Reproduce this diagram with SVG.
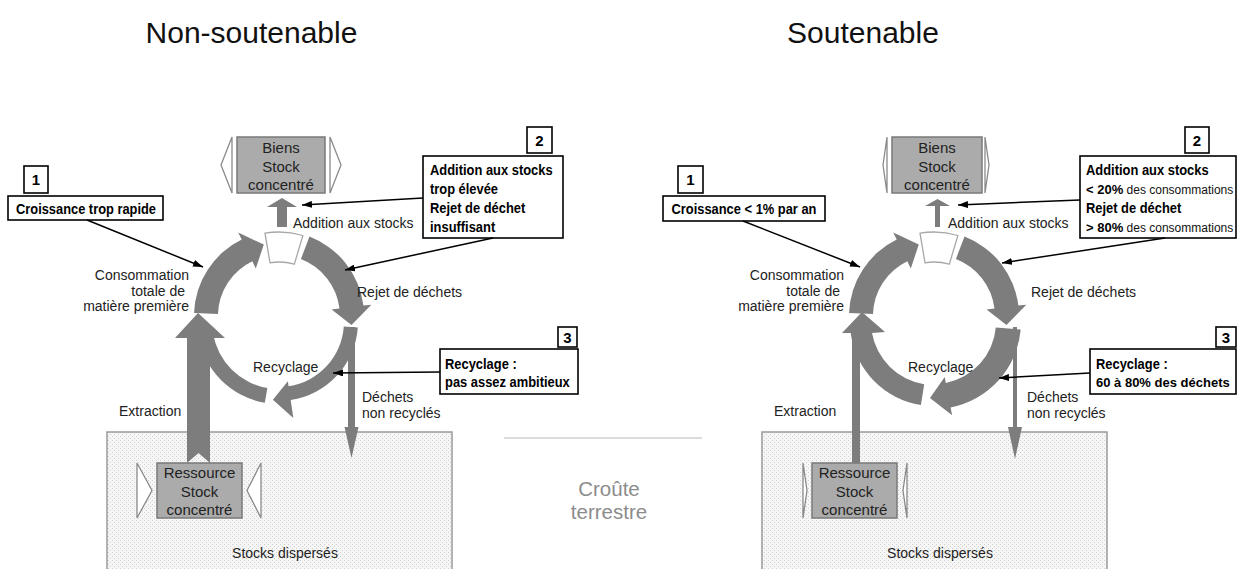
<svg xmlns="http://www.w3.org/2000/svg" width="1238" height="569" viewBox="0 0 1238 569">
<defs>
<style>
text{font-family:"Liberation Sans",Arial,sans-serif;fill:#1a1a1a}
.title{font-size:30px;text-anchor:middle;fill:#111}
.lbl{font-size:14px;fill:#222}
.end{text-anchor:end}
.mid{text-anchor:middle}
.box{font-size:15px;text-anchor:middle;fill:#222}
.cb{font-size:15px;font-weight:bold;fill:#000}
.cm{font-size:12px;fill:#111}
.bt{font-size:13px;font-weight:bold;fill:#000}
.num{font-size:15px;font-weight:bold;text-anchor:middle;fill:#000}
.band{fill:#7d7d7d}
.gap{fill:#fff;stroke:#a8a8a8;stroke-width:1.3}
.stock{fill:#ababab;stroke:#7a7a7a;stroke-width:1.5}
.chev{fill:#fff;stroke:#8a8a8a;stroke-width:1.3}
.call{fill:#fff;stroke:#000;stroke-width:1.6}
.conn{stroke:#000;stroke-width:1.5;fill:none;marker-end:url(#ah)}
.ground{fill:url(#dots);stroke:#9a9a9a;stroke-width:1.5}
.crust{font-size:20.5px;text-anchor:middle;fill:#8c8c8c}
</style>
<marker id="ah" viewBox="0 0 10 7" refX="10" refY="3.5" markerWidth="10" markerHeight="7" markerUnits="userSpaceOnUse" orient="auto"><path d="M0,0 L10,3.5 L0,7 z" fill="#000"/></marker>
<pattern id="dots" width="4" height="4" patternUnits="userSpaceOnUse"><rect width="4" height="4" fill="#f6f6f6"/><rect x="0" y="0" width="1" height="1" fill="#d0d0d0"/><rect x="2" y="2" width="1" height="1" fill="#d0d0d0"/></pattern>
<path id="conso" class="band" d="M194.05,313 A85,85 0 0 1 241.7,239.6 L238.2,232.4 L263.8,244.6 L255.8,268.4 L252.3,261.2 A61,61 0 0 0 218,313.9 Z"/>
<path id="gapseg" class="gap" d="M265,233.2 A84,84 0 0 1 302.9,235.5 L294.3,264.2 A54,54 0 0 0 270,262.8 Z"/>
<path id="rejet" class="band" d="M309.5,236.6 A85,85 0 0 1 363.4,305.6 L371.3,304.7 L351.5,324.9 L331.6,309.5 L339.5,308.6 A61,61 0 0 0 300.9,259 Z"/>
</defs>

<rect width="1238" height="569" fill="#fff"/>

<text class="title" x="251.5" y="43">Non-soutenable</text>
<text class="title" x="863" y="43">Soutenable</text>

<!-- ground / crust -->
<g id="ground-L"><rect class="ground" x="107" y="432" width="345" height="150"/><text class="lbl mid" x="285" y="558">Stocks dispersés</text></g>
<g id="ground-R"><rect class="ground" x="762" y="432" width="345" height="150"/><text class="lbl mid" x="940" y="558">Stocks dispersés</text></g>
<g id="crust">
<line x1="504" y1="438" x2="702" y2="438" stroke="#d0d0d0" stroke-width="1.5"/>
<text class="crust" x="609" y="496">Croûte</text>
<text class="crust" x="609" y="519">terrestre</text>
</g>

<!-- LEFT flows -->
<g id="flows-L">
<use href="#conso"/>
<use href="#gapseg"/>
<use href="#rejet"/>
<path class="band" d="M357.8,327.5 A79,79 0 0 1 290.7,400.1 L293.3,417.9 L272.9,399.8 L287.9,381.3 L288.6,386.3 A65,65 0 0 0 343.8,326.5 Z"/>
<path class="band" d="M264.8,402.8 A82,82 0 0 1 198.2,336.2 L213,333.6 A67,67 0 0 0 267.4,388 Z"/>
<polygon class="band" points="198,313 225,338 210,338 210,463 198.5,453 187,463 187,338 175,338"/>
<polygon class="band" points="348,327 355,327 355,427 358.5,427 351.5,458 344.5,427 348,427"/>
<polygon class="band" points="282,198 297,207 287,207 287,227 277,227 277,207 267,207"/>
</g>

<!-- RIGHT flows -->
<g id="flows-R" transform="translate(655,0)">
<use href="#conso"/>
<use href="#gapseg"/>
<use href="#rejet"/>
<path class="band" d="M365.7,329.6 A87,87 0 0 1 295.6,407.4 L297.1,415.3 L275,397.9 L289.7,377 L290.8,382.9 A62,62 0 0 0 340.8,327.4 Z"/>
<path class="band" d="M265.9,405 A84,84 0 0 1 195.7,333 L187,333 L207,312 L230,332 L217,333 A63,63 0 0 0 269.2,384.2 Z"/>
<rect class="band" x="197" y="330" width="8" height="133"/>
<polygon class="band" points="358,327 362,327 362,427 367,427 360,459 353,427 358,427"/>
<polygon class="band" points="282.5,199 295,206 285,206 285,227 280,227 280,206 270,206"/>
</g>

<!-- LEFT nodes -->
<g id="biens-L">
<polygon class="chev" points="232,137 221,165 232,193"/>
<polygon class="chev" points="330,137 341,165 330,193"/>
<rect class="stock" x="237" y="137" width="88" height="56"/>
<text class="box" x="281" y="153">Biens</text>
<text class="box" x="281" y="171.5">Stock</text>
<text class="box" x="281" y="190">concentré</text>
</g>
<g id="ressource-L">
<polygon class="chev" points="137,463 152,490.5 137,518"/>
<polygon class="chev" points="261,463 247,490.5 261,518"/>
<rect class="stock" x="157" y="463" width="85" height="55"/>
<text class="box" x="199.5" y="478">Ressource</text>
<text class="box" x="199.5" y="497">Stock</text>
<text class="box" x="199.5" y="515">concentré</text>
</g>
<g id="labels-L">
<text class="lbl" x="293" y="228">Addition aux stocks</text>
<text class="lbl end" x="189" y="280">Consommation</text>
<text class="lbl end" x="185" y="295.5">totale de</text>
<text class="lbl end" x="189" y="311">matière première</text>
<text class="lbl" x="357" y="297">Rejet de déchets</text>
<text class="lbl" x="253" y="372">Recyclage</text>
<text class="lbl" x="362" y="402">Déchets</text>
<text class="lbl" x="362" y="418">non recyclés</text>
<text class="lbl" x="119" y="416">Extraction</text>
</g>
<g id="call1-L">
<rect class="call" x="24" y="166" width="24" height="27"/><text class="num" x="36" y="185">1</text>
<rect class="call" x="8" y="196" width="155" height="24"/>
<text class="cb mid" x="86" y="214" textLength="140" lengthAdjust="spacingAndGlyphs">Croissance trop rapide</text>
</g>
<g id="call2-L">
<rect class="call" x="527" y="127" width="25" height="26"/><text class="num" x="539.5" y="146">2</text>
<rect class="call" x="423" y="156" width="140" height="82"/>
<text class="cb" x="430" y="175" textLength="122.6" lengthAdjust="spacingAndGlyphs">Addition aux stocks</text>
<text class="cb" x="430" y="194" textLength="68" lengthAdjust="spacingAndGlyphs">trop élevée</text>
<text class="cb" x="430" y="213" textLength="95.3" lengthAdjust="spacingAndGlyphs">Rejet de déchet</text>
<text class="cb" x="430" y="232" textLength="65.2" lengthAdjust="spacingAndGlyphs">insuffisant</text>
</g>
<g id="call3-L">
<rect class="call" x="558" y="327" width="19" height="20"/><text class="num" x="567.5" y="343">3</text>
<rect class="call" x="440" y="349" width="138" height="45"/>
<text class="cb" x="445" y="369" textLength="71.7" lengthAdjust="spacingAndGlyphs">Recyclage :</text>
<text class="cb" x="445" y="387" textLength="124.8" lengthAdjust="spacingAndGlyphs">pas assez ambitieux</text>
</g>

<!-- RIGHT nodes -->
<g id="biens-R">
<polygon class="chev" points="887,137 883,165 887,193"/>
<polygon class="chev" points="985,137 989,165 985,193"/>
<rect class="stock" x="892" y="137" width="90" height="56"/>
<text class="box" x="937" y="153">Biens</text>
<text class="box" x="937" y="171.5">Stock</text>
<text class="box" x="937" y="190">concentré</text>
</g>
<g id="ressource-R">
<polygon class="chev" points="803,463 807,490.5 803,518"/>
<polygon class="chev" points="907,463 903,490.5 907,518"/>
<rect class="stock" x="812" y="463" width="85" height="55"/>
<text class="box" x="854.5" y="478">Ressource</text>
<text class="box" x="854.5" y="497">Stock</text>
<text class="box" x="854.5" y="515">concentré</text>
</g>
<g id="labels-R">
<text class="lbl" x="948" y="228">Addition aux stocks</text>
<text class="lbl end" x="844" y="280">Consommation</text>
<text class="lbl end" x="840" y="295.5">totale de</text>
<text class="lbl end" x="844" y="311">matière première</text>
<text class="lbl" x="1031" y="297">Rejet de déchets</text>
<text class="lbl" x="908" y="372">Recyclage</text>
<text class="lbl" x="1027" y="402">Déchets</text>
<text class="lbl" x="1027" y="418">non recyclés</text>
<text class="lbl" x="774" y="416">Extraction</text>
</g>
<g id="call1-R">
<rect class="call" x="678" y="166" width="25" height="27"/><text class="num" x="690.5" y="185">1</text>
<rect class="call" x="663" y="196" width="162" height="25"/>
<text class="cb mid" x="744" y="214" textLength="145" lengthAdjust="spacingAndGlyphs">Croissance &lt; 1% par an</text>
</g>
<g id="call2-R">
<rect class="call" x="1185" y="127" width="24" height="26"/><text class="num" x="1197" y="146">2</text>
<rect class="call" x="1080" y="156" width="156" height="82"/>
<text class="cb" x="1086" y="175" textLength="122.6" lengthAdjust="spacingAndGlyphs">Addition aux stocks</text>
<text class="cm" x="1086" y="194"><tspan class="bt">&lt; 20%</tspan> des consommations</text>
<text class="cb" x="1086" y="213" textLength="95.3" lengthAdjust="spacingAndGlyphs">Rejet de déchet</text>
<text class="cm" x="1086" y="232"><tspan class="bt">&gt; 80%</tspan> des consommations</text>
</g>
<g id="call3-R">
<rect class="call" x="1216" y="327" width="20" height="20"/><text class="num" x="1226" y="343">3</text>
<rect class="call" x="1090" y="349" width="146" height="45"/>
<text class="cb" x="1096" y="369" textLength="71.7" lengthAdjust="spacingAndGlyphs">Recyclage :</text>
<text class="bt" x="1096" y="387">60 à 80% des déchets</text>
</g>

<!-- connectors -->
<g id="connectors">
<line class="conn" x1="87" y1="220" x2="203" y2="267"/>
<line class="conn" x1="423" y1="198" x2="302" y2="205"/>
<line class="conn" x1="493" y1="238" x2="345" y2="270"/>
<line class="conn" x1="440" y1="372" x2="333" y2="373"/>
<line class="conn" x1="743" y1="221" x2="860" y2="267"/>
<line class="conn" x1="1080" y1="200" x2="958" y2="205"/>
<line class="conn" x1="1165" y1="238" x2="1002" y2="263"/>
<line class="conn" x1="1090" y1="373" x2="999" y2="378"/>
</g>
</svg>
